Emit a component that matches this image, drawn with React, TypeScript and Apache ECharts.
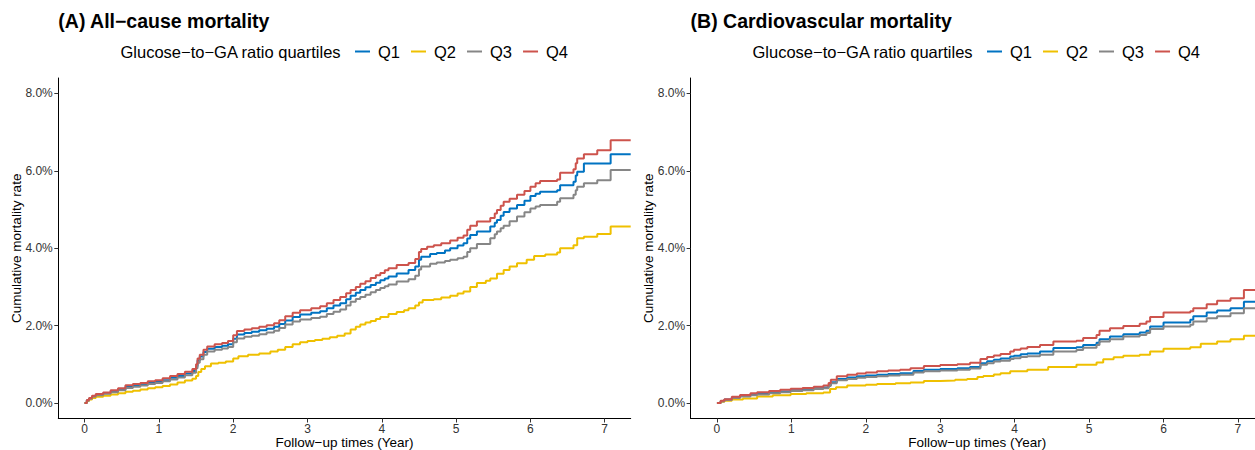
import React, { useEffect, useRef } from "react";
import * as echarts from "echarts";

const quartiles = ["Q1", "Q2", "Q3", "Q4"];
const colors = ["#0073C2", "#EFC000", "#868686", "#CD534C"];
const xTicks = [0, 1, 2, 3, 4, 5, 6, 7];
const yTicks = [0, 2, 4, 6, 8];
const panelTitles = ["(A) All\u2212cause mortality", "(B) Cardiovascular mortality"];
const legendTitle = "Glucose\u2212to\u2212GA ratio quartiles";
const xName = "Follow\u2212up times (Year)";
const yName = "Cumulative mortality rate";

// (A) All-cause mortality, cumulative %, step points
const allQ4T = [0, 0.03, 0.06, 0.1, 0.15, 0.25, 0.35, 0.45, 0.55, 0.65, 0.75, 0.85, 0.95, 1.05, 1.15, 1.25, 1.35, 1.45, 1.5, 1.52, 1.55, 1.6, 1.65, 1.75, 1.85, 1.93, 2.0, 2.05, 2.15, 2.25, 2.35, 2.45, 2.55, 2.62, 2.7, 2.8, 2.9, 3.05, 3.17, 3.26, 3.35, 3.44, 3.52, 3.58, 3.65, 3.71, 3.78, 3.85, 3.92, 3.98, 4.04, 4.09, 4.2, 4.36, 4.45, 4.5, 4.53, 4.61, 4.7, 4.8, 4.92, 5.02, 5.1, 5.15, 5.19, 5.28, 5.46, 5.52, 5.55, 5.6, 5.64, 5.72, 5.82, 5.92, 6.0, 6.07, 6.13, 6.36, 6.4, 6.58, 6.61, 6.63, 6.72, 6.9, 7.08, 7.35];
const allQ4V = [0, 0.08, 0.13, 0.19, 0.23, 0.27, 0.33, 0.38, 0.46, 0.49, 0.52, 0.56, 0.59, 0.64, 0.7, 0.75, 0.81, 0.88, 1.0, 1.15, 1.25, 1.38, 1.46, 1.52, 1.55, 1.6, 1.75, 1.86, 1.9, 1.93, 1.97, 2.01, 2.06, 2.14, 2.24, 2.33, 2.4, 2.45, 2.5, 2.58, 2.66, 2.74, 2.84, 2.92, 3.0, 3.08, 3.15, 3.23, 3.3, 3.36, 3.43, 3.48, 3.57, 3.62, 3.72, 3.9, 3.98, 4.04, 4.08, 4.13, 4.2, 4.27, 4.33, 4.48, 4.58, 4.69, 4.78, 4.9, 4.99, 5.1, 5.2, 5.28, 5.38, 5.48, 5.59, 5.68, 5.74, 5.78, 5.95, 6.04, 6.2, 6.32, 6.43, 6.53, 6.79, 6.79];

const allQ1T = [0, 0.03, 0.06, 0.1, 0.15, 0.25, 0.35, 0.45, 0.55, 0.65, 0.75, 0.85, 0.95, 1.05, 1.15, 1.25, 1.35, 1.45, 1.5, 1.52, 1.55, 1.6, 1.65, 1.75, 1.85, 1.93, 2.0, 2.05, 2.15, 2.25, 2.35, 2.45, 2.55, 2.62, 2.7, 2.8, 2.9, 3.05, 3.17, 3.26, 3.35, 3.44, 3.52, 3.58, 3.65, 3.71, 3.78, 3.85, 3.92, 3.98, 4.04, 4.09, 4.2, 4.36, 4.45, 4.5, 4.53, 4.65, 4.74, 4.85, 4.92, 5.02, 5.1, 5.15, 5.19, 5.28, 5.46, 5.52, 5.55, 5.6, 5.64, 5.72, 5.82, 5.92, 6.0, 6.07, 6.13, 6.36, 6.4, 6.58, 6.61, 6.63, 6.72, 6.9, 7.08, 7.35];
const allQ1V = [0, 0.07, 0.12, 0.17, 0.21, 0.25, 0.3, 0.35, 0.42, 0.45, 0.48, 0.52, 0.55, 0.59, 0.65, 0.7, 0.76, 0.83, 0.95, 1.1, 1.2, 1.32, 1.4, 1.45, 1.48, 1.52, 1.66, 1.77, 1.81, 1.84, 1.88, 1.92, 1.97, 2.04, 2.13, 2.22, 2.29, 2.33, 2.37, 2.45, 2.52, 2.58, 2.68, 2.77, 2.85, 2.92, 2.99, 3.05, 3.11, 3.17, 3.22, 3.27, 3.35, 3.44, 3.53, 3.7, 3.78, 3.85, 3.88, 3.94, 4.0, 4.07, 4.13, 4.25, 4.34, 4.43, 4.56, 4.66, 4.73, 4.84, 4.94, 5.03, 5.12, 5.23, 5.35, 5.41, 5.46, 5.5, 5.63, 5.72, 5.88, 5.98, 6.19, 6.19, 6.43, 6.43];

const allQ3T = [0, 0.03, 0.06, 0.1, 0.15, 0.25, 0.35, 0.45, 0.55, 0.65, 0.75, 0.85, 0.95, 1.05, 1.15, 1.25, 1.35, 1.45, 1.5, 1.52, 1.55, 1.6, 1.65, 1.75, 1.85, 1.93, 2.0, 2.05, 2.15, 2.25, 2.35, 2.45, 2.55, 2.62, 2.7, 2.8, 2.9, 3.05, 3.17, 3.26, 3.35, 3.44, 3.52, 3.58, 3.65, 3.71, 3.78, 3.85, 3.92, 3.98, 4.04, 4.09, 4.2, 4.36, 4.45, 4.5, 4.53, 4.65, 4.74, 4.85, 4.92, 5.02, 5.1, 5.15, 5.19, 5.28, 5.46, 5.52, 5.55, 5.6, 5.64, 5.72, 5.82, 5.92, 6.0, 6.07, 6.13, 6.36, 6.4, 6.58, 6.61, 6.63, 6.72, 6.9, 7.08, 7.35];
const allQ3V = [0, 0.06, 0.11, 0.16, 0.2, 0.24, 0.28, 0.33, 0.39, 0.42, 0.45, 0.49, 0.52, 0.56, 0.61, 0.66, 0.72, 0.78, 0.9, 1.04, 1.13, 1.25, 1.33, 1.38, 1.41, 1.45, 1.57, 1.67, 1.71, 1.74, 1.78, 1.82, 1.87, 1.94, 2.03, 2.11, 2.16, 2.2, 2.23, 2.3, 2.36, 2.42, 2.52, 2.62, 2.69, 2.74, 2.8, 2.86, 2.92, 2.97, 3.02, 3.06, 3.14, 3.2, 3.29, 3.45, 3.53, 3.6, 3.63, 3.67, 3.7, 3.74, 3.78, 3.9, 4.0, 4.11, 4.26, 4.36, 4.43, 4.52, 4.58, 4.7, 4.82, 4.93, 5.03, 5.08, 5.12, 5.2, 5.29, 5.38, 5.5, 5.59, 5.68, 5.76, 6.02, 6.02];

const allQ2T = [0, 0.03, 0.06, 0.1, 0.15, 0.25, 0.35, 0.45, 0.55, 0.65, 0.75, 0.85, 0.95, 1.05, 1.15, 1.25, 1.35, 1.45, 1.5, 1.53, 1.57, 1.62, 1.7, 1.8, 1.9, 2.0, 2.07, 2.2, 2.35, 2.5, 2.6, 2.7, 2.8, 2.9, 3.0, 3.1, 3.2, 3.3, 3.4, 3.5, 3.58, 3.65, 3.71, 3.78, 3.85, 3.92, 3.98, 4.09, 4.2, 4.3, 4.36, 4.45, 4.5, 4.55, 4.7, 4.8, 4.92, 5.02, 5.1, 5.19, 5.28, 5.4, 5.46, 5.55, 5.64, 5.72, 5.82, 5.95, 6.05, 6.2, 6.36, 6.4, 6.58, 6.63, 6.72, 6.9, 7.08, 7.35];
const allQ2V = [0, 0.05, 0.09, 0.13, 0.16, 0.19, 0.22, 0.25, 0.29, 0.32, 0.35, 0.38, 0.41, 0.44, 0.48, 0.53, 0.58, 0.63, 0.7, 0.8, 0.88, 0.95, 1.02, 1.04, 1.07, 1.15, 1.21, 1.25, 1.28, 1.33, 1.38, 1.45, 1.52, 1.57, 1.6, 1.63, 1.66, 1.7, 1.74, 1.8, 1.9, 1.97, 2.03, 2.08, 2.12, 2.17, 2.22, 2.3, 2.35, 2.4, 2.45, 2.52, 2.6, 2.66, 2.68, 2.73, 2.77, 2.83, 2.88, 3.0, 3.1, 3.16, 3.22, 3.34, 3.44, 3.53, 3.61, 3.7, 3.8, 3.84, 3.89, 4.0, 4.08, 4.26, 4.3, 4.37, 4.56, 4.56];

// (B) Cardiovascular mortality, cumulative %, step points
const cvQ4T = [0, 0.05, 0.1, 0.2, 0.31, 0.45, 0.54, 0.7, 0.85, 0.99, 1.15, 1.3, 1.43, 1.5, 1.53, 1.61, 1.75, 1.88, 2.0, 2.15, 2.3, 2.46, 2.6, 2.78, 3.0, 3.23, 3.4, 3.54, 3.63, 3.72, 3.81, 3.94, 3.99, 4.08, 4.17, 4.34, 4.52, 4.83, 4.92, 5.1, 5.14, 5.28, 5.46, 5.68, 5.77, 5.82, 6.0, 6.36, 6.4, 6.58, 6.72, 6.9, 7.08, 7.35];
const cvQ4V = [0, 0.06, 0.1, 0.16, 0.21, 0.25, 0.28, 0.31, 0.34, 0.37, 0.39, 0.42, 0.45, 0.52, 0.6, 0.69, 0.73, 0.76, 0.79, 0.82, 0.84, 0.86, 0.9, 0.96, 0.98, 1.0, 1.04, 1.14, 1.19, 1.23, 1.27, 1.33, 1.38, 1.41, 1.45, 1.5, 1.59, 1.61, 1.68, 1.76, 1.87, 1.93, 1.99, 2.05, 2.11, 2.22, 2.34, 2.37, 2.45, 2.55, 2.64, 2.71, 2.92, 2.92];

const cvQ1T = [0, 0.05, 0.1, 0.2, 0.31, 0.45, 0.54, 0.7, 0.85, 0.99, 1.15, 1.3, 1.43, 1.5, 1.53, 1.61, 1.75, 1.88, 2.0, 2.15, 2.3, 2.46, 2.64, 2.78, 3.0, 3.23, 3.4, 3.54, 3.63, 3.72, 3.81, 3.94, 3.99, 4.08, 4.17, 4.34, 4.52, 4.83, 4.92, 5.1, 5.14, 5.28, 5.46, 5.68, 5.77, 5.82, 6.0, 6.36, 6.4, 6.58, 6.72, 6.9, 7.08, 7.35];
const cvQ1V = [0, 0.05, 0.09, 0.14, 0.18, 0.22, 0.24, 0.27, 0.3, 0.33, 0.35, 0.38, 0.4, 0.46, 0.54, 0.62, 0.66, 0.69, 0.71, 0.73, 0.75, 0.77, 0.83, 0.86, 0.88, 0.9, 0.93, 1.03, 1.08, 1.12, 1.15, 1.2, 1.22, 1.26, 1.28, 1.33, 1.42, 1.44, 1.5, 1.56, 1.65, 1.72, 1.78, 1.82, 1.87, 1.98, 2.08, 2.15, 2.24, 2.34, 2.39, 2.45, 2.62, 2.62];

const cvQ3T = [0, 0.05, 0.1, 0.2, 0.31, 0.45, 0.54, 0.7, 0.85, 0.99, 1.15, 1.3, 1.43, 1.5, 1.53, 1.61, 1.75, 1.88, 2.0, 2.15, 2.3, 2.46, 2.64, 2.78, 3.0, 3.23, 3.4, 3.54, 3.63, 3.72, 3.81, 3.94, 3.99, 4.08, 4.17, 4.34, 4.52, 4.83, 4.92, 5.1, 5.14, 5.28, 5.46, 5.68, 5.77, 5.82, 6.0, 6.36, 6.4, 6.58, 6.72, 6.9, 7.08, 7.35];
const cvQ3V = [0, 0.04, 0.08, 0.13, 0.17, 0.2, 0.22, 0.25, 0.28, 0.31, 0.33, 0.36, 0.38, 0.44, 0.51, 0.59, 0.62, 0.65, 0.67, 0.69, 0.71, 0.73, 0.79, 0.82, 0.84, 0.86, 0.89, 0.99, 1.03, 1.07, 1.09, 1.14, 1.16, 1.19, 1.21, 1.25, 1.33, 1.37, 1.43, 1.5, 1.59, 1.65, 1.72, 1.76, 1.81, 1.91, 1.98, 2.02, 2.11, 2.19, 2.24, 2.32, 2.45, 2.45];

const cvQ2T = [0, 0.05, 0.1, 0.2, 0.35, 0.54, 0.75, 0.99, 1.2, 1.43, 1.52, 1.6, 1.75, 2.0, 2.15, 2.4, 2.6, 2.78, 3.0, 3.2, 3.36, 3.5, 3.58, 3.72, 3.81, 3.94, 4.17, 4.45, 4.83, 5.1, 5.19, 5.33, 5.46, 5.68, 5.82, 6.0, 6.36, 6.5, 6.72, 6.9, 7.08, 7.35];
const cvQ2V = [0, 0.03, 0.06, 0.09, 0.12, 0.17, 0.2, 0.23, 0.25, 0.27, 0.36, 0.41, 0.45, 0.47, 0.49, 0.51, 0.53, 0.57, 0.58, 0.6, 0.62, 0.67, 0.7, 0.74, 0.77, 0.82, 0.86, 0.93, 0.99, 1.05, 1.13, 1.18, 1.22, 1.25, 1.33, 1.4, 1.44, 1.53, 1.59, 1.65, 1.74, 1.74];

const panelSeries = [
  [
    [allQ1T, allQ1V],
    [allQ2T, allQ2V],
    [allQ3T, allQ3V],
    [allQ4T, allQ4V],
  ],
  [
    [cvQ1T, cvQ1V],
    [cvQ2T, cvQ2V],
    [cvQ3T, cvQ3V],
    [cvQ4T, cvQ4V],
  ],
];

const FONT = "'Liberation Sans', Arial, Helvetica, sans-serif";

export default function App() {
  const ref = useRef<HTMLDivElement>(null);

  useEffect(() => {
    if (!ref.current) return;
    const chart = echarts.init(ref.current, undefined, { renderer: "svg" });

    const grids = [
      { left: 58.3, top: 78, width: 572.4, height: 340.5, outerBoundsMode: "none", containLabel: false },
      { left: 690.6, top: 78, width: 573.4, height: 340.5, outerBoundsMode: "none", containLabel: false },
    ];
    const legendLefts = [355, 987];
    const legendTitleLefts = [120.5, 752.5];

    const xAxes = grids.map((_, i) => ({
      type: "value",
      gridIndex: i,
      min: -0.354,
      max: 7.35,
      name: xName,
      nameLocation: "middle",
      nameGap: 17,
      nameMoveOverlap: false,
      nameTextStyle: { fontSize: 13.5, color: "#000", fontFamily: FONT, lineHeight: 14 },
      axisLine: { show: true, onZero: false, lineStyle: { color: "#000", width: 1 } },
      axisTick: { show: true, length: 4, lineStyle: { color: "#333" }, customValues: xTicks },
      axisLabel: {
        show: true,
        margin: 4,
        fontSize: 12,
        lineHeight: 12,
        color: "#333",
        fontFamily: FONT,
        customValues: xTicks,
        formatter: (v: number) => String(v),
      },
      splitLine: { show: false },
    }));

    const yAxes = grids.map((_, i) => ({
      type: "value",
      gridIndex: i,
      min: -0.4,
      max: 8.4,
      name: yName,
      nameLocation: "middle",
      nameRotate: 90,
      nameGap: 35,
      nameMoveOverlap: false,
      nameTextStyle: { fontSize: 13.5, color: "#000", fontFamily: FONT, lineHeight: 14 },
      axisLine: { show: true, onZero: false, lineStyle: { color: "#000", width: 1 } },
      axisTick: { show: true, length: 4, lineStyle: { color: "#333" }, customValues: yTicks },
      axisLabel: {
        show: true,
        margin: 5.5,
        fontSize: 12,
        color: "#333",
        fontFamily: FONT,
        customValues: yTicks,
        formatter: (v: number) => v.toFixed(1) + "%",
      },
      splitLine: { show: false },
    }));

    const series: any[] = [];
    panelSeries.forEach((panel, p) => {
      panel.forEach(([ts, vs], q) => {
        series.push({
          type: "line",
          name: quartiles[q],
          xAxisIndex: p,
          yAxisIndex: p,
          step: "end",
          showSymbol: false,
          symbol: "none",
          color: colors[q],
          lineStyle: { width: 2, color: colors[q] },
          itemStyle: { color: colors[q] },
          data: ts.map((t, k) => [t, vs[k]]),
          z: 2 + q,
        });
      });
    });

    const titles: any[] = [];
    grids.forEach((g, i) => {
      titles.push({
        text: panelTitles[i],
        left: g.left,
        top: 9,
        padding: 0,
        textStyle: { fontSize: 19.5, fontWeight: "bold", color: "#000", fontFamily: FONT, lineHeight: 24 },
      });
      titles.push({
        text: legendTitle,
        left: legendTitleLefts[i],
        top: 41.5,
        padding: 0,
        textStyle: { fontSize: 16.5, fontWeight: "normal", color: "#000", fontFamily: FONT, lineHeight: 20 },
      });
    });

    const legends = legendLefts.map((l) => ({
      left: l,
      top: 41.5,
      orient: "horizontal",
      padding: 0,
      data: quartiles,
      icon: "rect",
      itemWidth: 15,
      itemHeight: 2,
      itemGap: 11,
      selectedMode: false,
      textStyle: { fontSize: 16.5, color: "#000", fontFamily: FONT, lineHeight: 20, padding: [0, 0, 0, 3] },
    }));

    chart.setOption({
      animation: false,
      backgroundColor: "#fff",
      title: titles,
      legend: legends,
      grid: grids,
      xAxis: xAxes,
      yAxis: yAxes,
      series,
    });

    return () => chart.dispose();
  }, []);

  return (
    <div
      ref={ref}
      style={{ position: "absolute", left: 0, top: 0, width: 1255, height: 450, background: "#fff" }}
    />
  );
}
